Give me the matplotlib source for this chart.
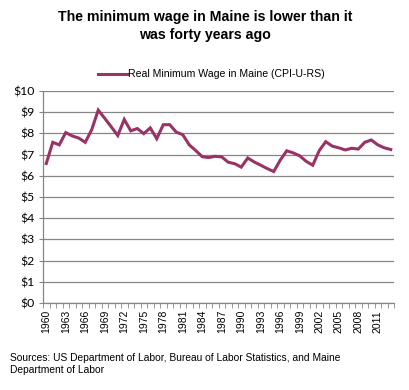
import matplotlib
matplotlib.use("Agg")
import matplotlib.pyplot as plt
import numpy as np
from matplotlib.ticker import FixedLocator

# Real minimum wage in Maine, CPI-U-RS adjusted
years = list(range(1960, 2014))
wages = [
    6.58, 7.58, 7.46, 8.04, 7.88, 7.78, 7.58, 8.18, 9.10, 8.71,
    8.31, 7.90, 8.66, 8.12, 8.23, 7.99, 8.26, 7.75, 8.41, 8.41,
    8.06, 7.94, 7.46, 7.19, 6.90, 6.86, 6.92, 6.89, 6.64, 6.57,
    6.41, 6.84, 6.65, 6.50, 6.34, 6.20, 6.74, 7.18, 7.08, 6.94,
    6.68, 6.50, 7.19, 7.61, 7.40, 7.32, 7.22, 7.30, 7.26, 7.58,
    7.69, 7.46, 7.32, 7.24,
]
y_ticks = list(range(0, 11))
y_labels = [f"${v}" for v in y_ticks]

title = "The minimum wage in Maine is lower than it\nwas forty years ago"
series_name = "Real Minimum Wage in Maine (CPI-U-RS)"
source_note = ("Sources: US Department of Labor, Bureau of Labor Statistics, and Maine\n"
               "Department of Labor")

line_color = "#993366"
grid_color = "#868686"

fig = plt.figure(figsize=(4.09, 3.90), dpi=100)
ax = fig.add_axes([43 / 409, 1 - 303 / 390, (394 - 43) / 409, (303 - 91) / 390])

x = np.arange(len(years))
ax.plot(x, wages, color=line_color, linewidth=2.2, solid_joinstyle="miter")

ax.set_xlim(-0.5, len(years) - 0.5)
ax.set_ylim(0, 10)

# y axis: dollar labels, gray gridlines
ax.set_yticks(y_ticks)
ax.set_yticklabels(y_labels, fontfamily="Lato", fontsize=8.8)
ax.tick_params(axis="y", length=3, color=grid_color, pad=3)
ax.grid(axis="y", color=grid_color, linewidth=0.9)
ax.set_axisbelow(True)

# x axis: category ticks between years, label every third year
label_pos = x[::3]
ax.set_xticks(label_pos)
ax.set_xticklabels([str(years[i]) for i in label_pos], rotation=90,
                   fontfamily="Liberation Sans", fontsize=7.5)
ax.tick_params(axis="x", which="major", length=0, pad=5)
ax.xaxis.set_minor_locator(FixedLocator(np.arange(-0.5, len(years), 1.0)))
ax.tick_params(axis="x", which="minor", length=3.5, color=grid_color, direction="out")

for side in ["top", "right"]:
    ax.spines[side].set_visible(False)
for side in ["left", "bottom"]:
    ax.spines[side].set_color(grid_color)
    ax.spines[side].set_linewidth(0.9)

fig.text(205 / 409, 1 - 26 / 390, title, ha="center", va="center",
         fontfamily="Liberation Sans", fontweight="bold", fontsize=10.2,
         linespacing=1.35)

# legend drawn by hand to sit like the original
fig.add_artist(plt.Line2D([98 / 409, 127 / 409], [1 - 74 / 390, 1 - 74 / 390],
                          color=line_color, linewidth=2.2))
fig.text(128 / 409, 1 - 74 / 390, series_name, ha="left", va="center",
         fontfamily="Liberation Sans", fontsize=7.6)

fig.text(10 / 409, 1 - 364 / 390, source_note, ha="left", va="center",
         fontfamily="Liberation Sans", fontsize=7.4, linespacing=1.3)

fig.savefig("out.png", dpi=100)
